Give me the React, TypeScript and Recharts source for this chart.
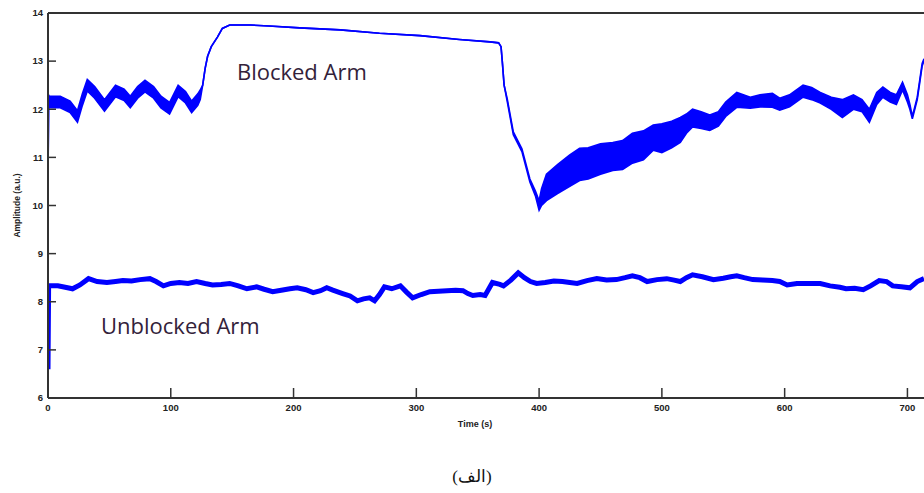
import React from "react";
import { ComposedChart, Area, Line, XAxis, YAxis, ReferenceDot } from "recharts";

// Time (s) ticks and amplitude ticks
const timeTicks = [0, 100, 200, 300, 400, 500, 600, 700];
const ampTicks = [6, 7, 8, 9, 10, 11, 12, 13, 14];

// Blocked arm: time, lower and upper edge of the noisy trace
const blockedTime = [0, 0.5, 1, 10, 18, 24, 28, 32, 38, 46, 55, 62, 67, 73, 79, 86, 92, 99, 106, 112, 117, 122, 124,
  126, 128, 130, 133, 138, 142, 148, 165, 180, 205, 238, 270, 303, 335, 360, 367, 369, 370, 371.5, 374, 379, 386, 392.5, 397,
  400, 402, 406, 415, 425, 433, 440, 450, 460, 468, 476, 485, 493, 500, 508, 515, 520, 525, 532, 539, 546, 552, 561, 572, 580,
  590, 596, 604, 615, 622, 629, 638, 647, 656, 663, 669, 675, 680, 686, 691, 696, 700, 702, 704, 706, 708, 710, 712, 713.5];
const blockedLow = [10.5, 12.05, 12.03, 12.03, 11.93, 11.73, 12.08, 12.38, 12.23, 11.96, 12.26, 12.18, 12.03, 12.23, 12.36, 12.23, 12.03, 11.9, 12.26, 12.13, 11.93, 12.08, 12.2,
  12.5, 12.85, 13.1, 13.3, 13.5, 13.68, 13.75, 13.75, 13.73, 13.69, 13.65, 13.58, 13.53, 13.45, 13.4, 13.38, 13.3, 13.0, 12.5, 12.17, 11.47, 11.12, 10.49, 10.2,
  9.9, 10.0, 10.1, 10.25, 10.4, 10.52, 10.55, 10.65, 10.73, 10.75, 10.88, 10.95, 11.15, 11.1, 11.2, 11.31, 11.5, 11.63, 11.6, 11.56, 11.65, 11.85, 12.04, 12.02, 12.05,
  12.04, 11.98, 12.05, 12.25, 12.2, 12.13, 12.0, 11.83, 12.0, 11.95, 11.73, 12.1, 12.25, 12.15, 12.1, 12.4, 12.15, 12.0, 11.8, 12.0, 12.2, 12.55, 12.9, 13.0];
const blockedHigh = [10.5, 12.3, 12.27, 12.27, 12.17, 11.97, 12.32, 12.62, 12.47, 12.2, 12.5, 12.42, 12.27, 12.47, 12.6, 12.47, 12.27, 12.14, 12.5, 12.37, 12.17, 12.32, 12.4,
  12.5, 12.85, 13.1, 13.3, 13.5, 13.68, 13.75, 13.75, 13.73, 13.69, 13.65, 13.58, 13.53, 13.45, 13.4, 13.38, 13.3, 13.0, 12.5, 12.22, 11.53, 11.18, 10.55, 10.3,
  10.1, 10.35, 10.65, 10.85, 11.05, 11.19, 11.2, 11.28, 11.31, 11.35, 11.5, 11.55, 11.67, 11.7, 11.75, 11.83, 11.9, 12.0, 11.95, 11.88, 11.95, 12.15, 12.35, 12.25, 12.3,
  12.33, 12.23, 12.3, 12.5, 12.45, 12.35, 12.25, 12.2, 12.3, 12.2, 12.0, 12.35, 12.46, 12.35, 12.3, 12.56, 12.3, 12.1, 11.85, 12.05, 12.25, 12.6, 12.95, 13.05];

// Unblocked arm: time and amplitude
const unblockedTime = [0, 0.5, 8, 14, 20, 26, 33, 40, 48, 55, 61, 68, 75, 83, 88, 94, 100, 107, 114, 121, 128, 134, 141, 148, 155, 162, 170, 176,
  183, 190, 197, 203, 210, 216, 222, 227, 232, 240, 246, 252, 257, 262, 266, 270, 274, 280, 287, 292, 297, 304, 311, 318, 325, 332, 338, 342,
  346, 352, 356, 362, 368, 371, 377, 383, 388, 393, 398, 405, 412, 419, 425, 431, 439, 447, 455, 463, 470, 476, 482, 488, 496, 504, 510, 515,
  520, 525, 533, 542, 550, 556, 561, 567, 574, 582, 590, 596, 602, 610, 620, 629, 637, 645, 650, 657, 664, 670, 677, 683, 688, 695, 702, 708, 713.5];
const unblockedValue = [6.6, 8.33, 8.33, 8.3, 8.27, 8.35, 8.48, 8.42, 8.4, 8.42, 8.44, 8.43, 8.46, 8.48, 8.42, 8.33, 8.38, 8.4, 8.38, 8.42, 8.38, 8.35, 8.36, 8.38, 8.33, 8.27, 8.31, 8.26,
  8.21, 8.24, 8.27, 8.29, 8.25, 8.19, 8.23, 8.29, 8.24, 8.17, 8.12, 8.02, 8.06, 8.08, 8.02, 8.15, 8.31, 8.27, 8.33, 8.2, 8.08, 8.15, 8.21, 8.22, 8.23, 8.24, 8.23, 8.17,
  8.13, 8.15, 8.13, 8.4, 8.36, 8.33, 8.45, 8.6, 8.5, 8.42, 8.38, 8.4, 8.43, 8.42, 8.4, 8.38, 8.44, 8.48, 8.45, 8.46, 8.5, 8.54, 8.5, 8.42, 8.46, 8.48, 8.45, 8.42,
  8.5, 8.56, 8.52, 8.46, 8.49, 8.52, 8.54, 8.5, 8.46, 8.45, 8.44, 8.42, 8.35, 8.38, 8.38, 8.38, 8.33, 8.3, 8.27, 8.28, 8.25, 8.33, 8.44, 8.42, 8.33, 8.31, 8.29, 8.42, 8.48];

const blockedData = blockedTime.map((t, i) => ({ t, band: [blockedLow[i], blockedHigh[i]] }));
const unblockedData = unblockedTime.map((t, i) => ({ t, v: unblockedValue[i] }));

const BLUE = "#0000ff";
const AXIS = "#333333";
const tickFont = { fontSize: 9.5, fontWeight: 700, fill: "#222", fontFamily: "Liberation Sans, Arial, sans-serif" };

const annotation = (text: string) => (props: any) => {
  const vb = props.viewBox || {};
  return (
    <text x={vb.x} y={vb.y} fill="#33223a" fontSize={22} fontFamily="Open Sans, sans-serif" textAnchor="start">
      {text}
    </text>
  );
};

export default function App() {
  return (
    <div style={{ position: "fixed", top: 0, left: 0, width: 924, height: 493, overflow: "hidden", background: "#fff" }}>
      <ComposedChart width={924} height={440} margin={{ top: 12, right: 0, left: 0, bottom: 7 }}>
        <XAxis
          xAxisId="bottom"
          dataKey="t"
          type="number"
          domain={[0, 713.5]}
          allowDataOverflow
          ticks={timeTicks}
          interval={0}
          height={35}
          tickSize={-10}
          tickMargin={16}
          tick={tickFont}
          axisLine={{ stroke: AXIS, strokeWidth: 2 }}
          tickLine={{ stroke: AXIS, strokeWidth: 1.5 }}
          label={{ value: "Time (s)", position: "insideBottom", offset: 6, dx: -11, style: { ...tickFont, fontSize: 9 } }}
        />
        <XAxis
          xAxisId="top"
          dataKey="t"
          type="number"
          orientation="top"
          domain={[0, 713.5]}
          allowDataOverflow
          ticks={timeTicks}
          interval={0}
          height={1}
          tickSize={-10}
          tick={false}
          axisLine={{ stroke: AXIS, strokeWidth: 2 }}
          tickLine={{ stroke: AXIS, strokeWidth: 1.5 }}
        />
        <YAxis
          yAxisId="left"
          type="number"
          domain={[6, 14]}
          ticks={ampTicks}
          interval={0}
          width={48}
          tickSize={-8}
          tickMargin={13}
          tick={tickFont}
          axisLine={{ stroke: AXIS, strokeWidth: 2 }}
          tickLine={{ stroke: AXIS, strokeWidth: 1.5 }}
          label={{ value: "Amplitude (a.u.)", angle: -90, position: "insideLeft", offset: 17, style: { ...tickFont, fontSize: 8.5, textAnchor: "middle" } }}
        />
        <Area
          xAxisId="bottom"
          yAxisId="left"
          data={blockedData}
          dataKey="band"
          type="linear"
          stroke={BLUE}
          strokeWidth={1.6}
          fill={BLUE}
          fillOpacity={1}
          dot={false}
          activeDot={false}
          isAnimationActive={false}
        />
        <Line
          xAxisId="bottom"
          yAxisId="left"
          data={unblockedData}
          dataKey="v"
          type="linear"
          stroke={BLUE}
          strokeWidth={5}
          dot={false}
          activeDot={false}
          isAnimationActive={false}
        />
        <ReferenceDot xAxisId="bottom" yAxisId="left" x={154.7} y={12.59} r={1} fill="none" stroke="none" label={annotation("Blocked Arm")} />
        <ReferenceDot xAxisId="bottom" yAxisId="left" x={44} y={7.31} r={1} fill="none" stroke="none" label={annotation("Unblocked Arm")} />
      </ComposedChart>
      <div
        style={{
          position: "absolute",
          top: 468,
          left: 0,
          width: 924,
          height: 18,
          paddingLeft: 20,
          boxSizing: "border-box",
          textAlign: "center",
          fontSize: 17,
          lineHeight: "18px",
          fontFamily: "Liberation Serif, DejaVu Serif, serif",
          color: "#111",
        }}
      >
        (الف)
      </div>
    </div>
  );
}
